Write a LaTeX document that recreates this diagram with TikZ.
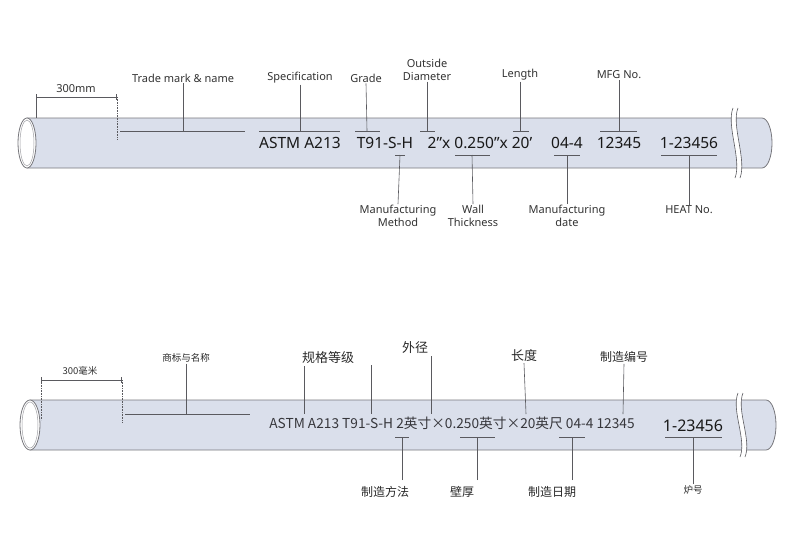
\documentclass[tikz,border=0pt]{standalone}
\usepackage{fontspec}
\setmainfont{Noto Sans}
\newfontfamily\cjk{Noto Sans CJK SC}
\begin{document}
\begin{tikzpicture}[x=1pt,y=-1pt,
  pipe/.style={fill={rgb,255:red,218;green,223;blue,235},draw={rgb,255:red,120;green,120;blue,125},line width=0.8pt},
  lead/.style={draw={rgb,255:red,90;green,90;blue,95},line width=0.6pt},
  lbl/.style={inner sep=1pt,text={rgb,255:red,50;green,50;blue,50},font=\fontsize{11}{12}\selectfont,align=center},
  marktxt/.style={inner sep=0pt,text={rgb,255:red,25;green,25;blue,25},font=\fontsize{15.5}{16}\selectfont},
  cmark/.style={inner sep=0pt,text={rgb,255:red,55;green,55;blue,60},font=\cjk\fontsize{13.7}{14}\selectfont},
  clbl/.style={inner sep=1pt,text={rgb,255:red,40;green,40;blue,40},font=\cjk\fontsize{12}{13}\selectfont}]
\useasboundingbox (0,0) rectangle (800,541);
% ---------- top pipe ----------
\path[pipe] (27,118) -- (762,118) arc[start angle=-90,end angle=90,x radius=10,y radius=25] -- (27,168) -- cycle;
\draw[pipe,fill=white] (27,143) ellipse[x radius=9,y radius=25];
\draw[draw={rgb,255:red,160;green,160;blue,165},line width=0.5pt] (27,143) ellipse[x radius=7,y radius=23];
\fill[white] (733,108) .. controls (726,125) and (742,160) .. (735,178) -- (740,178) .. controls (747,160) and (731,125) .. (738,108) -- cycle;
\draw[lead] (733,108) .. controls (726,125) and (742,160) .. (735,178);
\draw[lead] (738,108) .. controls (731,125) and (747,160) .. (740,178);
% 300mm
\node[lbl] (d1) at (76,89) {300mm};
\draw[lead,|-|] (36,97) -- (117,97);
\draw[lead] (36,97) -- (36,118);
\draw[lead,densely dotted] (117,97) -- (117,140);
% marking text
\node[marktxt] (t1) at (300,143) {ASTM A213};
\node[marktxt] (t2) at (385,143) {T91-S-H};
\node[marktxt] (t3) at (480,143) {2"x 0.250"x 20'};
\node[marktxt] (t4) at (567,143) {04-4};
\node[marktxt] (t5) at (619,143) {12345};
\node[marktxt] (t6) at (689,143) {1-23456};
% top labels
\node[lbl] (a1) at (183,78) {Trade mark \& name};
\draw[lead] (a1.south) -- (183,131); \draw[lead] (120,131) -- (245,131);
\node[lbl] (a2) at (300,78) {Specification};
\draw[lead] (a2.south) -- (300,131); \draw[lead] (259,131) -- (340,131);
\node[lbl] (a3) at (366,78) {Grade};
\draw[lead] (a3.south) -- (367,131); \draw[lead] (355,131) -- (380,131);
\node[lbl,font=\fontsize{11}{12.5}\selectfont] (a4) at (427,70) {Outside\\Diameter};
\draw[lead] (a4.south) -- (427,131); \draw[lead] (420,131) -- (435,131);
\node[lbl] (a5) at (520,75) {Length};
\draw[lead] (a5.south) -- (520,131); \draw[lead] (513,131) -- (529,131);
\node[lbl] (a6) at (619,75) {MFG No.};
\draw[lead] (a6.south) -- (619,131); \draw[lead] (600,131) -- (637,131);
% bottom labels
\node[lbl,font=\fontsize{11}{13}\selectfont] (b1) at (398,216) {Manufacturing\\Method};
\draw[lead] (b1.north) -- (400,155); \draw[lead] (395,155) -- (405,155);
\node[lbl,font=\fontsize{11}{13}\selectfont] (b2) at (473,216) {Wall\\Thickness};
\draw[lead] (b2.north) -- (472,155); \draw[lead] (455,155) -- (490,155);
\node[lbl,font=\fontsize{11}{13}\selectfont] (b3) at (567,216) {Manufacturing\\date};
\draw[lead] (b3.north) -- (567,155); \draw[lead] (554,155) -- (580,155);
\node[lbl] (b4) at (689,210) {HEAT No.};
\draw[lead] (b4.north) -- (689,155); \draw[lead] (661,155) -- (717,155);
% ---------- bottom pipe ----------
\path[pipe] (30,400) -- (766,400) arc[start angle=-90,end angle=90,x radius=10,y radius=25] -- (30,450) -- cycle;
\draw[pipe,fill=white] (30,425) ellipse[x radius=10,y radius=25];
\draw[draw={rgb,255:red,160;green,160;blue,165},line width=0.5pt] (30,425) ellipse[x radius=8,y radius=23];
\fill[white] (738,393) .. controls (731,410) and (747,440) .. (740,457) -- (745,457) .. controls (752,440) and (736,410) .. (743,393) -- cycle;
\draw[lead] (738,393) .. controls (731,410) and (747,440) .. (740,457);
\draw[lead] (743,393) .. controls (736,410) and (752,440) .. (745,457);
% 300 mm
\node[lbl,font=\cjk\fontsize{9.5}{10}\selectfont] (d2) at (80,371) {300毫米};
\draw[lead,|-|] (41,380) -- (122,380);
\draw[lead,densely dotted] (41,380) -- (41,420);
\draw[lead,densely dotted] (122,380) -- (122,422);
% marking
\node[cmark] (m1) at (452,423) {ASTM A213 T91-S-H 2英寸×0.250英寸×20英尺 04-4 12345};
\node[marktxt,font=\fontsize{16}{17}\selectfont] (m2) at (693,426) {1-23456};
% labels
\node[clbl,font=\cjk\fontsize{9.5}{10}\selectfont] (c1) at (186,358) {商标与名称};
\draw[lead] (c1.south) -- (186,414); \draw[lead] (125,414) -- (250,414);
\node[clbl,font=\cjk\fontsize{13}{14}\selectfont] (c2) at (328,358) {规格等级};
\coordinate (c2a) at (304,366);
\draw[lead] (c2a) -- (304,414);
\coordinate (c2b) at (371,365);
\draw[lead] (c2b) -- (371,414);
\node[clbl,font=\cjk\fontsize{13}{14}\selectfont] (c3) at (415,348) {外径};
\coordinate (c3a) at (431,356);
\draw[lead] (c3a) -- (431,414);
\node[clbl,font=\cjk\fontsize{13}{14}\selectfont] (c4) at (524,356) {长度};
\draw[lead] (c4.south) -- (526,414);
\node[clbl] (c5) at (624,357) {制造编号};
\draw[lead] (c5.south) -- (623,414);
\node[clbl] (e1) at (385,492) {制造方法};
\coordinate (e1a) at (402,480);
\draw[lead] (e1a) -- (402,437); \draw[lead] (395,437) -- (409,437);
\node[clbl] (e2) at (462,492) {壁厚};
\coordinate (e2a) at (477,480);
\draw[lead] (e2a) -- (477,437); \draw[lead] (460,437) -- (495,437);
\node[clbl] (e3) at (552,492) {制造日期};
\coordinate (e3a) at (572,480);
\draw[lead] (e3a) -- (572,437); \draw[lead] (559,437) -- (585,437);
\node[clbl,font=\cjk\fontsize{9.5}{10}\selectfont] (e4) at (693,490) {炉号};
\draw[lead] (e4.north) -- (693,437); \draw[lead] (665,437) -- (722,437);
\end{tikzpicture}
\end{document}
